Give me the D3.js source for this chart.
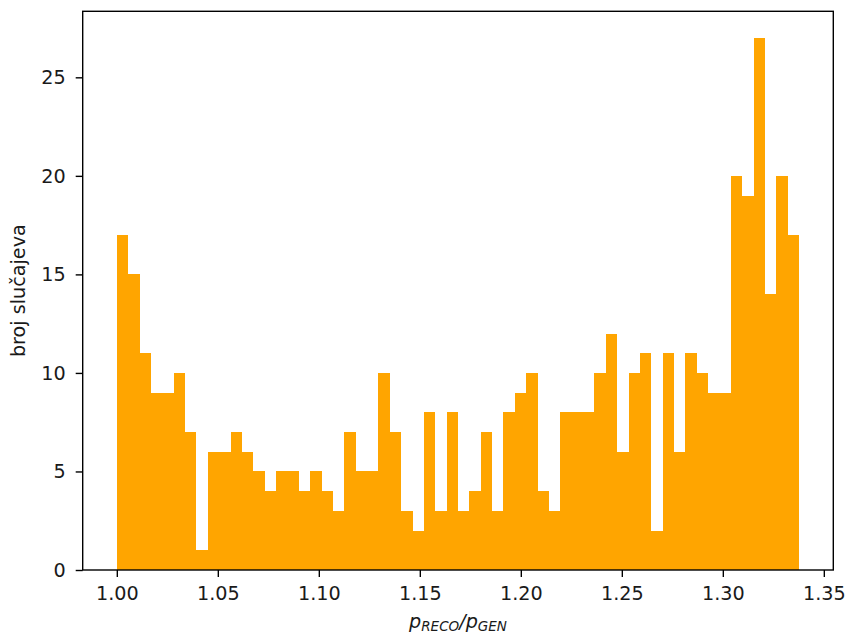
<!DOCTYPE html>
<html>
<head>
<meta charset="utf-8">
<script src="https://cdn.jsdelivr.net/npm/d3@7"></script>
<style>
body { margin: 0; background: #fff; }
text { font-family: "DejaVu Sans", sans-serif; }
</style>
</head>
<body>
<svg width="846" height="637"></svg>
<script>
// histogram counts, 60 equal bins from binStart to binEnd
var counts = [17, 15, 11, 9, 9, 10, 7, 1, 6, 6,
              7, 6, 5, 4, 5, 5, 4, 5, 4, 3,
              7, 5, 5, 10, 7, 3, 2, 8, 3, 8,
              3, 4, 7, 3, 8, 9, 10, 4, 3, 8,
              8, 8, 10, 12, 6, 10, 11, 2, 11, 6,
              11, 10, 9, 9, 20, 19, 27, 14, 20, 17];
var binStart = 1.0;
var binEnd = 1.3378;
var xTicks = [1.00, 1.05, 1.10, 1.15, 1.20, 1.25, 1.30, 1.35];
var yTicks = [0, 5, 10, 15, 20, 25];

var svg = d3.select('svg');
var margin = {left: 82.7, top: 11.3, right: 846 - 833.3, bottom: 637 - 570};
var width = +svg.attr('width') - margin.left - margin.right;
var height = +svg.attr('height') - margin.top - margin.bottom;
var fontSize = 19.2;

var binW = (binEnd - binStart) / counts.length;
var pad = (binEnd - binStart) * 0.05;

var x = d3.scaleLinear()
    .domain([binStart - pad, binEnd + pad])
    .range([0, width]);
var y = d3.scaleLinear()
    .domain([0, d3.max(counts) * 1.05])
    .range([height, 0]);

var g = svg.append('g')
    .attr('transform', 'translate(' + margin.left + ',' + margin.top + ')');

g.selectAll('.bar')
    .data(counts)
    .enter()
    .append('rect')
    .attr('class', 'bar')
    .attr('x', function(d, i) { return x(binStart + i * binW); })
    .attr('width', function(d, i) { return x(binStart + (i + 1) * binW) - x(binStart + i * binW); })
    .attr('y', function(d) { return y(d); })
    .attr('height', function(d) { return height - y(d); })
    .attr('fill', '#ffa500')
    .attr('shape-rendering', 'crispEdges');

var xAxis = g.append('g')
    .attr('transform', 'translate(0,' + height + ')')
    .call(d3.axisBottom(x).tickValues(xTicks).tickFormat(d3.format('.2f'))
        .tickSize(7).tickPadding(9));
var yAxis = g.append('g')
    .call(d3.axisLeft(y).tickValues(yTicks).tickSize(7).tickPadding(10));

[xAxis, yAxis].forEach(function(a) {
    a.select('.domain').remove();
    a.selectAll('line').attr('stroke', '#000').attr('stroke-width', 1.4);
    a.selectAll('text').attr('font-size', fontSize).attr('fill', '#1a1a1a')
        .style('font-family', '"DejaVu Sans", sans-serif');
});

// frame
g.append('rect')
    .attr('width', width)
    .attr('height', height)
    .attr('fill', 'none')
    .attr('stroke', '#000')
    .attr('stroke-width', 1.4);

// axis labels
svg.append('text')
    .attr('transform', 'translate(25,' + (margin.top + height / 2) + ') rotate(-90)')
    .attr('text-anchor', 'middle')
    .attr('font-size', fontSize)
    .attr('fill', '#1a1a1a')
    .text('broj slučajeva');

var xl = svg.append('text')
    .attr('x', margin.left + width / 2)
    .attr('y', 628)
    .attr('text-anchor', 'middle')
    .attr('font-size', fontSize)
    .attr('fill', '#1a1a1a')
    .attr('font-style', 'italic');
xl.append('tspan').text('p');
xl.append('tspan').attr('font-size', 13.5).attr('dy', 3).text('RECO');
xl.append('tspan').attr('dy', -3).text('/p');
xl.append('tspan').attr('font-size', 13.5).attr('dy', 3).text('GEN');
</script>
</body>
</html>
